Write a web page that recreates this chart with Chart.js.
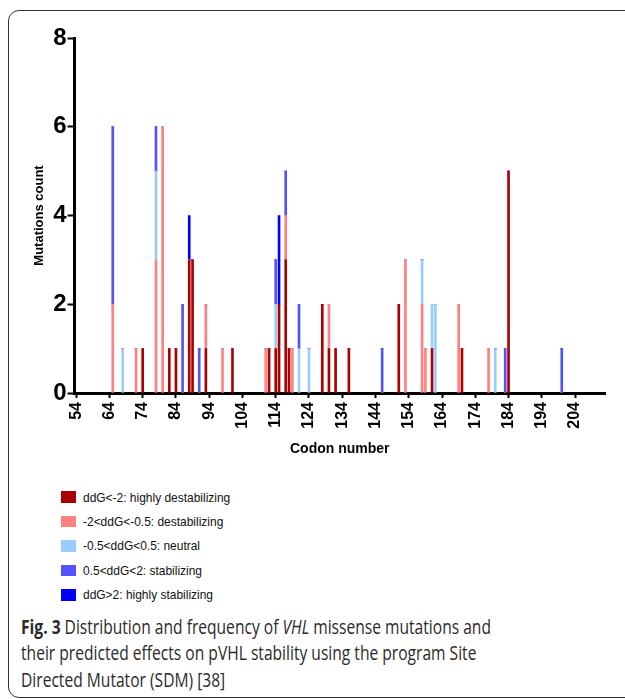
<!DOCTYPE html>
<html lang="en">
<head>
  <meta charset="UTF-8">
  <title>Distribution of VHL missense mutations</title>
  <style>
    html, body { margin: 0; padding: 0; background: #fff; overflow: hidden; }
    body { width: 625px; height: 699px; position: relative; font-family: 'Liberation Sans', Arial, sans-serif; }
    .frame { position: absolute; left: 8px; top: 10px; width: 660px; height: 686px; border: 1.5px solid #333; border-radius: 11px; }
    .chart-box { position: absolute; left: 0; top: 0; width: 625px; height: 470px; }
    .legend { position: absolute; left: 61px; top: 485px; font-size: 13px; color: #111; }
    .legend .row { display: flex; align-items: center; height: 24.4px; }
    .legend .sw { width: 15px; height: 11.5px; margin-right: 7px; flex: none; }
    .legend .txt { transform: scaleX(0.92); transform-origin: left center; white-space: nowrap; }
    .caption { position: absolute; left: 21px; top: 614px; font-family: 'Open Sans', sans-serif; font-size: 19.5px; line-height: 26.3px; color: #2a2a2a; transform: scaleX(0.8); transform-origin: left top; white-space: nowrap; }
  </style>
</head>
<body>
  <div class="frame"></div>
  <div class="chart-box"><canvas id="chart"></canvas></div>
  <div class="legend" id="legend"></div>
  <div class="caption"><b>Fig. 3</b> Distribution and frequency of <i>VHL</i> missense mutations and<br>their predicted effects on pVHL stability using the program Site<br>Directed Mutator (SDM) [38]</div>

  <script src="https://cdn.jsdelivr.net/npm/chart.js"></script>
  <script>
    // codon positions with at least one mutation
    const codons = [65, 68, 72, 74, 78, 80, 82, 84, 86, 88, 89, 91, 93, 98, 101,
      111, 112, 114, 115, 117, 118, 119, 121, 124, 128, 130, 132, 136, 146,
      151, 153, 158, 159, 161, 162, 169, 170, 178, 180, 183, 184, 200];

    // mutation counts per codon, one array per SDM class
    const highlyDestabilizing = [0, 0, 0, 1, 0, 0, 1, 1, 0, 3, 3, 0, 1, 0, 1,
      0, 1, 1, 2, 3, 1, 0, 0, 0, 2, 1, 1, 1, 0,
      2, 0, 0, 0, 1, 0, 0, 1, 0, 0, 0, 5, 0];
    const destabilizing = [2, 0, 1, 0, 3, 6, 0, 0, 0, 0, 0, 0, 1, 1, 0,
      1, 0, 0, 0, 1, 0, 1, 0, 0, 0, 1, 0, 0, 0,
      0, 3, 2, 1, 0, 0, 2, 0, 1, 0, 0, 0, 0];
    const neutral = [0, 1, 0, 0, 2, 0, 0, 0, 0, 0, 0, 0, 0, 0, 0,
      0, 0, 1, 0, 0, 0, 0, 1, 1, 0, 0, 0, 0, 0,
      0, 0, 1, 0, 1, 2, 0, 0, 0, 1, 0, 0, 0];
    const stabilizing = [4, 0, 0, 0, 1, 0, 0, 0, 2, 0, 0, 1, 0, 0, 0,
      0, 0, 1, 0, 1, 0, 0, 1, 0, 0, 0, 0, 0, 1,
      0, 0, 0, 0, 0, 0, 0, 0, 0, 0, 1, 0, 1];
    const highlyStabilizing = [0, 0, 0, 0, 0, 0, 0, 0, 0, 1, 0, 0, 0, 0, 0,
      0, 0, 0, 2, 0, 0, 0, 0, 0, 0, 0, 0, 0, 0,
      0, 0, 0, 0, 0, 0, 0, 0, 0, 0, 0, 0, 0];

    const classNames = ['ddG<-2: highly destabilizing', '-2<ddG<-0.5: destabilizing',
      '-0.5<ddG<0.5: neutral', '0.5<ddG<2: stabilizing', 'ddG>2: highly stabilizing'];
    const classColors = ['#aa0000', '#ff8080', '#99ccff', '#5252ff', '#0000ff'];

    const xTickLabels = [54, 64, 74, 84, 94, 104, 114, 124, 134, 144, 154, 164, 174, 184, 194, 204];
    const yTickLabels = [0, 2, 4, 6, 8];

    const seriesList = [highlyDestabilizing, destabilizing, neutral, stabilizing, highlyStabilizing];

    Chart.defaults.font.family = "'Liberation Sans', Arial, sans-serif";
    Chart.defaults.color = '#000';

    const datasets = seriesList.map((vals, k) => ({
      label: classNames[k],
      data: codons.map((c, i) => ({ x: c, y: vals[i] })),
      backgroundColor: classColors[k],
      borderWidth: 0,
      barThickness: 2
    }));

    new Chart(document.getElementById('chart'), {
      type: 'bar',
      data: { datasets: datasets },
      options: {
        responsive: true,
        maintainAspectRatio: false,
        animation: false,
        layout: { padding: { left: 28, top: 38, right: 20, bottom: 0 } },
        plugins: {
          legend: { display: false },
          tooltip: { enabled: false }
        },
        scales: {
          x: {
            type: 'linear',
            stacked: true,
            min: 53.5,
            max: 213,
            offset: false,
            afterBuildTicks: s => { s.ticks = xTickLabels.map(v => ({ value: v })); },
            afterFit: s => { s.height = 470 - 393; },
            grid: { drawOnChartArea: false, drawTicks: true, tickLength: 5, tickWidth: 2, tickColor: '#000', offset: false },
            border: { display: true, color: '#000', width: 3 },
            ticks: { minRotation: 90, maxRotation: 90, autoSkip: false, padding: 4, font: { size: 16, weight: 'bold' } },
            title: { display: true, text: 'Codon number', font: { size: 14, weight: 'bold' }, padding: { top: 0, bottom: 12 } }
          },
          y: {
            stacked: true,
            min: 0,
            max: 8,
            afterBuildTicks: s => { s.ticks = yTickLabels.map(v => ({ value: v })); },
            afterFit: s => { s.width = 74.5 - 28; },
            grid: { drawOnChartArea: false, tickLength: 7, tickWidth: 2, tickColor: '#000' },
            border: { display: true, color: '#000', width: 3 },
            ticks: { padding: 1, font: { size: 24, weight: 'bold' } },
            title: { display: true, text: 'Mutations count', font: { size: 13, weight: 'bold' }, padding: { top: 4, bottom: 0 } }
          }
        }
      }
    });

    // legend drawn as html below the plot
    const legendEl = document.getElementById('legend');
    classNames.forEach((name, k) => {
      const row = document.createElement('div');
      row.className = 'row';
      const sw = document.createElement('span');
      sw.className = 'sw';
      sw.style.background = classColors[k];
      const txt = document.createElement('span');
      txt.className = 'txt';
      txt.textContent = name;
      row.appendChild(sw);
      row.appendChild(txt);
      legendEl.appendChild(row);
    });
  </script>
</body>
</html>
